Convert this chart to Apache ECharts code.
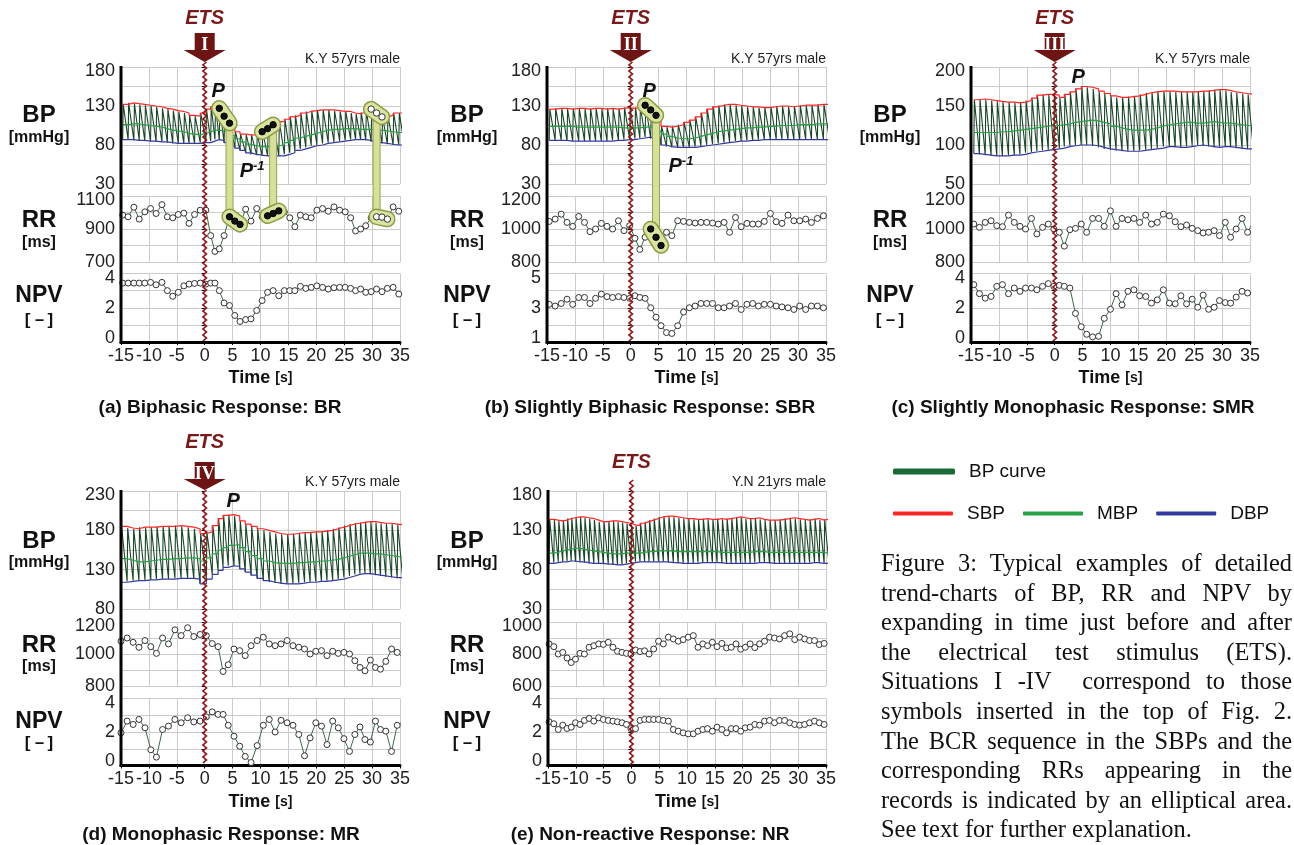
<!DOCTYPE html>
<html><head><meta charset="utf-8">
<script src="https://cdn.jsdelivr.net/npm/echarts@6/dist/echarts.min.js"></script>
<style>
html,body{margin:0;padding:0;background:#fff;}
#c{position:absolute;left:0;top:0;width:1294px;height:845px;}
#cap{position:absolute;left:881px;top:548px;width:411px;font-family:"Liberation Serif","Times New Roman",serif;font-size:24.4px;line-height:29.6px;color:#111;}
#cap div{text-align:justify;text-align-last:justify;white-space:normal;}
#cap div.last{text-align:left;text-align-last:left;}
</style></head>
<body>
<div id="c"></div>
<div id="cap">
<div>Figure 3: Typical examples of detailed</div>
<div>trend-charts of BP, RR and NPV by</div>
<div>expanding in time just before and after</div>
<div>the electrical test stimulus (ETS).</div>
<div>Situations I -IV &nbsp;correspond to those</div>
<div>symbols inserted in the top of Fig. 2.</div>
<div>The BCR sequence in the SBPs and the</div>
<div>corresponding RRs appearing in the</div>
<div>records is indicated by an elliptical area.</div>
<div class="last">See text for further explanation.</div>
</div>
<script>
// ---------------- DATA (per beat) ----------------
const X_MIN = -15, X_MAX = 35, X_STEP = 5;

// (a) Biphasic Response
const A_T0 = -14.7;
const A_RR = [984,974,1032,960,1004,1024,994,1048,974,968, 988,996,934,988,1014,1014,860,764,780,860, 974,948,928,1020,948,1024,974,980,994,1010, 1004,968,914,984,974,968,1014,1024,1008,1034, 1014,1004,968,888,900,920,968,974,972,960, 1034,1008];
const A_NPV = [3.44,3.44,3.44,3.44,3.44,3.48,3.34,3.48,3.0,2.67, 2.9,3.28,3.38,3.42,3.44,3.38,3.44,3.44,3.0,2.28, 2.13,1.55,1.2,1.31,1.35,1.84,2.42,2.9,3.0,2.7, 3.0,3.0,3.0,3.25,3.13,3.19,3.28,3.19,3.09,3.17, 3.19,3.19,3.13,3.0,3.09,2.9,2.94,3.09,2.94,3.13, 3.19,2.8];
const A_SBP = [132,134,133,132,131,130,129,127,126,124, 123,121,118,117,121,126,129,131,127,117, 108,97,94,93,93,94,97,101,106,110, 113,116,118,121,123,124,125,125,125,124, 123,123,121,120,122,124,126,121,116,118, 121,121];
const A_MBP = [106,107,107,106,105,104,103,101,99,98, 97,95,94,93,95,97,99,99,98,96, 92,88,84,81,79,78,78,78,79,80, 83,86,89,91,93,95,97,99,100,100, 101,101,101,100,100,100,99,99,98,97, 96,96];
const A_DBP = [87,87,86,86,85,85,84,84,83,82, 82,82,82,82,83,83,85,87,86,83, 79,76,73,70,68,67,66,66,66,66, 68,70,73,75,77,79,80,82,83,84, 85,86,87,87,87,86,84,83,82,81, 80,80];
const A_BCR = [{sbp:[18,19,20], rr:[20,21,22], bar:20, fill:'black'},
               {sbp:[26,27,28], rr:[27,28,29], bar:28, fill:'black'},
               {sbp:[46,47,48], rr:[47,48,49], bar:47, fill:'white'}];
const A_P = [2.4,148], A_PINV = [8.5,46];

// (b) Slightly Biphasic Response
const B_T0 = -14.6;
const B_RR = [1046,1060,1090,1040,1016,1076,1040,984,1000,1034, 1016,1000,1050,990,1020,944,876,950,1000,950, 900,980,960,1050,1046,1040,1036,1040,1040,1036, 1030,1040,980,1070,1014,1034,1030,1030,1046,1094, 1044,1034,1084,1050,1050,1060,1040,1064,1080,1084];
const B_NPV = [3.2,3.1,3.25,3.5,3.2,3.6,3.6,3.25,3.55,3.8, 3.65,3.6,3.65,3.6,3.55,3.7,3.6,3.55,3.0,2.45, 1.95,1.55,1.5,1.95,2.75,3.0,3.1,3.25,3.25,3.25, 3.0,3.0,3.1,3.25,2.9,3.2,3.25,3.1,3.2,3.2, 3.1,3.05,3.0,2.9,3.1,2.9,3.1,3.1,3.0,2.9];
const B_SBP = [126,127,127,126,127,127,126,127,127,126, 127,126,127,128,127,128,129,131,125,118, 104,103,104,106,109,112,116,121,126,129, 131,132,132,131,130,129,129,128,128,129, 130,130,129,130,131,131,131,132,132,132];
const B_MBP = [104,104,104,104,103,103,103,103,103,103, 103,103,102,102,102,102,103,103,101,98, 94,91,89,88,88,89,91,93,95,97, 98,99,100,101,102,102,103,103,104,104, 105,105,105,106,106,106,107,107,107,107];
const B_DBP = [86,86,86,85,85,85,85,85,85,85, 85,86,86,87,87,88,89,90,88,84, 80,78,77,77,77,77,78,79,80,81, 82,83,84,85,85,86,86,87,87,87, 87,87,87,87,87,87,87,87,87,87];
const B_BCR = [{sbp:[17,18,19], rr:[18,19,20], bar:19, fill:'black'}];
const B_P = [3.3,148], B_PINV = [9.0,52];

// (c) Slightly Monophasic Response
const C_T0 = -14.5;
const C_RR = [1030,1010,1040,1050,1020,1014,1084,1040,1016,1000, 1064,970,1010,1030,1000,980,896,996,1004,1030, 980,1064,1064,1016,1110,1016,1064,1056,1064,1040, 1084,1030,1040,1090,1080,1044,1014,1024,1004,990, 976,980,990,960,1040,950,1000,1064,980,1044];
const C_NPV = [3.35,2.82,2.56,2.66,3.25,3.35,2.82,3.15,2.96,3.15, 3.15,3.05,3.25,3.41,3.25,3.31,3.25,3.15,1.67,0.89, 0.45,0.3,0.33,1.38,1.91,2.82,2.17,2.96,3.05,2.7, 2.66,2.27,2.46,3.05,2.27,2.23,2.7,2.23,2.5,2.03, 2.74,1.91,2.03,2.42,2.3,2.27,2.62,2.96,2.86,2.76];
const C_SBP = [158,159,158,157,156,155,155,154,155,157, 160,164,165,165,164,161,165,168,172,175, 174,172,169,166,163,161,161,162,163,165, 167,168,169,169,169,168,168,168,168,169, 169,170,171,171,170,168,167,166,165,165];
const C_MBP = [116,116,116,116,117,117,118,119,120,121, 122,123,124,125,125,126,127,129,130,131, 132,131,129,127,124,122,120,119,119,119, 120,122,124,126,127,128,129,129,128,128, 129,130,129,128,128,127,126,125,125,124];
const C_DBP = [89,88,87,86,86,86,87,87,88,90, 91,92,93,94,95,96,98,99,100,100, 100,99,97,95,94,93,92,92,92,93, 94,95,96,98,98,97,97,98,99,100, 99,98,97,98,98,97,96,95,95,95];
const C_P = [4.2,187];

// (d) Monophasic Response
const D_T0 = -15.0;
const D_RR = [1080,1100,1073,1042,1084,1046,1004,1100,1063,1151, 1115,1164,1109,1122,1115,1065,1046,891,933,1031, 1021,990,1052,1084,1105,1063,1052,1063,1084,1052, 1042,1031,1000,1017,1021,990,1017,1004,1010,1000, 958,916,895,962,916,905,954,1031,1010,979];
const D_NPV = [1.95,2.65,2.45,2.75,2.25,0.94,0.5,2.15,2.35,2.75, 2.55,2.85,2.6,2.65,2.9,3.2,3.05,3.05,2.4,1.75, 1.15,0.54,0.18,1.19,2.4,2.75,2.0,2.7,2.55,2.4, 1.85,0.58,1.65,2.55,2.35,1.25,2.65,2.25,1.6,0.84, 1.85,2.3,1.55,1.4,2.65,2.15,2.05,0.84,2.4,2.6];
const D_SBP = [185,183,182,184,184,184,185,185,185,186, 185,184,182,176,178,186,195,199,200,198, 192,188,185,182,180,178,176,175,175,176, 177,177,178,178,179,180,182,184,186,188, 189,190,191,191,190,189,189,188,187,187];
const D_MBP = [144,142,140,140,141,142,143,143,144,144, 145,145,144,141,145,150,155,158,161,162, 158,153,148,144,141,139,138,138,138,139, 139,140,140,141,141,142,143,145,147,149, 151,151,151,150,150,149,148,147,146,146];
const D_DBP = [114,115,116,116,117,117,118,118,118,119, 119,119,118,112,118,124,129,133,135,134, 131,127,123,119,116,114,113,112,112,112, 113,114,114,115,115,116,117,118,120,122, 124,125,125,124,123,122,121,120,120,119];
const D_P = [5.1,217];

// (e) Non-reactive Response
const E_T0 = -14.8;
const E_RR = [863,846,800,810,775,747,768,804,800,842, 852,863,860,873,842,817,810,804,800,825, 815,820,800,831,880,863,905,894,880,890, 905,915,842,863,852,873,846,866,838,842, 863,830,842,863,840,863,880,905,900,894, 915,926,890,905,894,884,884,859,866,870];
const E_NPV = [2.61,2.49,2.15,2.41,2.21,2.29,2.55,2.45,2.69,2.81, 2.65,2.85,2.75,2.69,2.65,2.61,2.55,2.45,2.2,2.2, 2.69,2.75,2.75,2.75,2.75,2.69,2.65,2.15,2.05,1.95, 1.89,1.89,2.05,2.15,2.2,2.05,2.29,2.15,1.95,2.2, 2.2,2.05,2.25,2.29,2.45,2.41,2.65,2.69,2.55,2.69, 2.69,2.55,2.45,2.41,2.45,2.55,2.65,2.55,2.45,2.29];
const E_SBP = [144,143,142,143,145,146, 147,147,146,145,143,141, 141,142,142,141,140,139, 137,136,139,141,143, 145,147,148,148,147,146, 145,145,144,144,145,144, 144,145,144,145,146,147, 146,145,145,146,144,143, 143,143,144,145,146,145, 144,143,144,145,143,144,145];
const E_MBP = [101,102,104,105,106,107, 107,106,105,104,103,102, 101,100,100,100,101,101, 101,101,102,103,103, 104,104,104,104,103,103,103,103,103,103, 103,103,103,102,102,102,102,102,102,102, 103,103,103,102,102,102,102,102,102,102, 102,102,102,102,102,101,101];
const E_DBP = [88,89,90,90,91,91, 90,90,89,88,88,88, 87,87,86,86,87,88, 89,90,90,90,90, 90,90,90,89,89,88,88,88,88,89, 89,89,89,89,88,88,88,88,88,88, 88,89,89,89,88,88,88,88,88,88, 88,88,89,89,88,88,88];

// axis ranges [min, max, step]
const BP_AXES  = {a:[30,180,25], b:[30,180,25], c:[50,200,25], d:[80,230,25], e:[30,180,25]};
const RR_AXES  = {a:[700,1100,100], b:[800,1200,100], c:[800,1200,100], d:[800,1200,100], e:[600,1000,100]};
const NPV_AXES = {a:[0,4,1], b:[1,5,1], c:[0,4,1], d:[0,4,1], e:[0,4,1]};

const SUBJECTS = {a:'K.Y 57yrs male', b:'K.Y 57yrs male', c:'K.Y 57yrs male', d:'K.Y 57yrs male', e:'Y.N 21yrs male'};
const CAPTIONS = {a:'(a) Biphasic Response: BR', b:'(b) Slightly Biphasic Response: SBR', c:'(c) Slightly Monophasic Response: SMR', d:'(d) Monophasic Response: MR', e:'(e) Non-reactive Response: NR'};
const NUMERALS = {a:'I', b:'II', c:'III', d:'IV', e:null};

// ---------------- LAYOUT / STYLE ----------------
const FONT = '"Liberation Sans", Arial, sans-serif';
const LAYOUT = {
  a:{left:121,width:279,row:0,labelX:39,capX:220},
  b:{left:547,width:279,row:0,labelX:467,capX:650},
  c:{left:971,width:279,row:0,labelX:890,capX:1073},
  d:{left:121,width:279,row:1,labelX:39,capX:221},
  e:{left:548,width:278,row:1,labelX:467,capX:650}
};
const ROWS = [
  {g:[[67,117],[196,66],[273.5,68.5]], person:59, ets:18, arrowTop:33, tip:62, time:378, cap:408,
   lab:{bp:115,unit:138,rr:220,ms:243,npv:296,dash:320}},
  {g:[[491,118],[622,64],[698.5,67]], person:482, ets:442, arrowTop:462, tip:490, time:802, cap:835,
   lab:{bp:541,unit:563,rr:645,ms:667,npv:722,dash:743}}
];
const C_SBPLINE = '#ff2626', C_MBPLINE = '#27a046', C_DBPLINE = '#343a9e', C_CURVE = '#1a4627';
const GRIDC = '#cbcbcb';

const PANELS = {
  a:{t0:A_T0, rr:A_RR, npv:A_NPV, sbp:A_SBP, mbp:A_MBP, dbp:A_DBP, bcr:A_BCR, p:A_P, pinv:A_PINV},
  b:{t0:B_T0, rr:B_RR, npv:B_NPV, sbp:B_SBP, mbp:B_MBP, dbp:B_DBP, bcr:B_BCR, p:B_P, pinv:B_PINV},
  c:{t0:C_T0, rr:C_RR, npv:C_NPV, sbp:C_SBP, mbp:C_MBP, dbp:C_DBP, bcr:[], p:C_P, pinv:null},
  d:{t0:D_T0, rr:D_RR, npv:D_NPV, sbp:D_SBP, mbp:D_MBP, dbp:D_DBP, bcr:[], p:D_P, pinv:null},
  e:{t0:E_T0, rr:E_RR, npv:E_NPV, sbp:E_SBP, mbp:E_MBP, dbp:E_DBP, bcr:[], p:null, pinv:null}
};

function beatTimes(t0, rr){ const t=[t0]; for(let i=1;i<rr.length;i++) t.push(t[i-1]+rr[i]/1000); return t; }

function yFmt(mn, mx, st, bottomUp){
  return v => {
    const k = Math.round((v-mn)/st);
    if (k % 2) return '';
    if (Math.abs(v-mx) < 1e-6) return '{t|'+v+'}';
    if (bottomUp && Math.abs(v-mn) < 1e-6) return '{b|'+v+'}';
    return '{n|'+v+'}';
  };
}
const LBL = {fontSize:18, color:'#222', fontFamily:FONT};

const grids=[], xAxes=[], yAxes=[], series=[];
const gridIdx = {};
Object.keys(PANELS).forEach(key => {
  const P = PANELS[key], L = LAYOUT[key], R = ROWS[L.row];
  const axesDef = [BP_AXES[key], RR_AXES[key], NPV_AXES[key]];
  gridIdx[key] = [];
  R.g.forEach((r, ri) => {
    const gi = grids.length; gridIdx[key].push(gi);
    grids.push({left:L.left, top:r[0], width:L.width, height:r[1]});
    xAxes.push({gridIndex:gi, type:'value', min:X_MIN, max:X_MAX, interval:X_STEP,
      axisLine:{show:ri===2, onZero:false, lineStyle:{color:'#000', width:3}},
      axisTick:{show:ri===2, length:3, lineStyle:{color:'#000'}},
      axisLabel:{show:ri===2, fontSize:18, color:'#222', margin:5, fontFamily:FONT},
      splitLine:{show:true, lineStyle:{color:GRIDC, width:1}}});
    const [mn,mx,st] = axesDef[ri];
    yAxes.push({gridIndex:gi, type:'value', min:mn, max:mx, interval:st,
      axisLine:{show:false}, axisTick:{show:true, length:3, lineStyle:{color:'#000'}},
      axisLabel:{margin:6, formatter:yFmt(mn,mx,st, ri===2),
        rich:{n:LBL, t:Object.assign({padding:[9,0,0,0]},LBL), b:Object.assign({padding:[0,0,8,0]},LBL)}},
      splitLine:{show:true, lineStyle:{color:GRIDC, width:1}}});
  });
  const t = beatTimes(P.t0, P.rr);
  const n = Math.min(P.rr.length, P.sbp.length, P.dbp.length, P.mbp.length, P.npv.length);
  const curve = [];
  for (let i=0;i<n;i++){ curve.push([t[i], P.dbp[i]]); curve.push([t[i]+0.1, P.sbp[i]]); }
  curve.push([t[n-1]+P.rr[n-1]/1000, P.dbp[n-1]]);
  const step = arr => { const d=[]; for(let i=0;i<n;i++) d.push([t[i],arr[i]]); d.push([t[n-1]+P.rr[n-1]/1000, arr[n-1]]); return d; };
  const g = gridIdx[key];
  series.push({name:'BP curve', type:'line', xAxisIndex:g[0], yAxisIndex:g[0], data:curve, showSymbol:false,
    lineStyle:{color:C_CURVE, width:1.1}, itemStyle:{color:'#1b6a35'}, z:2, silent:true});
  series.push({name:'MBP', type:'line', step:'end', xAxisIndex:g[0], yAxisIndex:g[0], data:step(P.mbp), showSymbol:false,
    lineStyle:{color:C_MBPLINE, width:1.2}, itemStyle:{color:C_MBPLINE}, z:3, silent:true});
  series.push({name:'SBP', type:'line', step:'end', xAxisIndex:g[0], yAxisIndex:g[0], data:step(P.sbp), showSymbol:false,
    lineStyle:{color:C_SBPLINE, width:1.2}, itemStyle:{color:C_SBPLINE}, z:3, silent:true});
  series.push({name:'DBP', type:'line', step:'end', xAxisIndex:g[0], yAxisIndex:g[0], data:step(P.dbp), showSymbol:false,
    lineStyle:{color:C_DBPLINE, width:1.2}, itemStyle:{color:C_DBPLINE}, z:3, silent:true});
  const pts = arr => { const d=[]; for(let i=0;i<n;i++) d.push([t[i],arr[i]]); return d; };
  const dotStyle = {color:'#fff', borderColor:'#333', borderWidth:1};
  series.push({name:'RR', type:'line', xAxisIndex:g[1], yAxisIndex:g[1], data:pts(P.rr), symbol:'circle', symbolSize:6,
    showAllSymbol:true, lineStyle:{color:'#3b6b46', width:1}, itemStyle:dotStyle, z:3, silent:true});
  series.push({name:'NPV', type:'line', xAxisIndex:g[2], yAxisIndex:g[2], data:pts(P.npv), symbol:'circle', symbolSize:6,
    showAllSymbol:true, lineStyle:{color:'#3b6b46', width:1}, itemStyle:dotStyle, z:3, silent:true});
  P._t = t;
});

const chart = echarts.init(document.getElementById('c'), null, {renderer:'canvas', width:1294, height:845});
chart.setOption({
  animation:false, backgroundColor:'#fff',
  grid:grids, xAxis:xAxes, yAxis:yAxes, series:series,
  legend:[
    {data:['BP curve'], left:888, top:457, icon:'roundRect', itemWidth:62, itemHeight:6, selectedMode:false,
     textStyle:{fontSize:19, color:'#111', fontFamily:FONT, padding:[0,0,0,9]}},
    {data:['SBP','MBP','DBP'], left:888, top:499, icon:'roundRect', itemWidth:60, itemHeight:4, itemGap:18, selectedMode:false,
     textStyle:{fontSize:19, color:'#111', fontFamily:FONT, padding:[0,0,0,9]}}
  ]
});

// ---------------- DECORATIONS (positioned through the axes) ----------------
const G = [];
const px = (gi, x, y) => chart.convertToPixel({gridIndex:gi}, [x, y]);
const txt = (x, y, text, font, extra) => G.push(Object.assign({type:'text', x, y, z:60, silent:true,
  style:{text, font, fill:'#111', align:'center', verticalAlign:'middle'}}, extra||{}));

Object.keys(PANELS).forEach(key => {
  const P = PANELS[key], L = LAYOUT[key], R = ROWS[L.row], g = gridIdx[key], t = P._t;
  const topPx = px(g[0], X_MIN, BP_AXES[key][1]);
  const botPx = px(g[2], X_MIN, NPV_AXES[key][0]);
  G.push({type:'line', z:50, silent:true, shape:{x1:topPx[0], y1:topPx[1]-1, x2:botPx[0], y2:botPx[1]+1.5}, style:{stroke:'#000', lineWidth:3}});
  const lb = R.lab;
  txt(L.labelX, lb.bp, 'BP', 'bold 24px '+FONT);
  txt(L.labelX, lb.unit, '[mmHg]', 'bold 16px '+FONT);
  txt(L.labelX, lb.rr, 'RR', 'bold 24px '+FONT);
  txt(L.labelX, lb.ms, '[ms]', 'bold 16px '+FONT);
  txt(L.labelX, lb.npv, 'NPV', 'bold 23px '+FONT);
  txt(L.labelX, lb.dash, '[－]', 'bold 17px '+FONT);
  const rightX = px(g[0], X_MAX, 0)[0];
  txt(rightX, R.person, SUBJECTS[key], '14px '+FONT, {style:{text:SUBJECTS[key], font:'14px '+FONT, fill:'#222', align:'right', verticalAlign:'middle'}});
  const midX = (px(g[2], X_MIN, 0)[0] + rightX)/2;
  G.push({type:'text', x:midX, y:R.time, z:60, silent:true, style:{text:'{a|Time }{b|[s]}', align:'center', verticalAlign:'middle',
    rich:{a:{font:'bold 18px '+FONT, fill:'#111'}, b:{font:'bold 14px '+FONT, fill:'#111'}}}});
  txt(L.capX, R.cap, CAPTIONS[key], 'bold 19px '+FONT);

  const x0 = px(g[0], 0, 0)[0];
  const etsY = key==='e' ? 462 : R.ets;
  G.push({type:'text', x:x0, y:etsY, z:60, silent:true, style:{text:'ETS', font:'italic bold 20px '+FONT, fill:'#7a1919', align:'center', verticalAlign:'middle'}});
  let zzTop = key==='e' ? 480 : R.tip;
  if (NUMERALS[key]) {
    const a = R.arrowTop, tp = R.tip, m = a + 17;
    G.push({type:'polygon', z:55, silent:true, shape:{points:[[x0-10,a],[x0+10,a],[x0+10,m],[x0+21,m],[x0,tp],[x0-21,m],[x0-10,m]]}, style:{fill:'#6d1515'}});
    G.push({type:'text', x:x0, y:a+12, z:56, silent:true, style:{text:NUMERALS[key], font:'bold 18px "Liberation Serif", serif', fill:'#fff', align:'center', verticalAlign:'middle'}});
  }
  const zz = []; let s = 1;
  for (let y = zzTop; y <= botPx[1]; y += 3) { zz.push([x0 + 1.8*s, y]); s = -s; }
  G.push({type:'polyline', z:58, silent:true, shape:{points:zz}, style:{stroke:'#8e1414', lineWidth:1.6, fill:null}});

  P.bcr.forEach(b => {
    const sp = b.sbp.map(i => px(g[0], t[i], P.sbp[i]));
    const rp = b.rr.map(i => px(g[1], t[i], P.rr[i]));
    const bt = px(g[0], t[b.bar], P.sbp[b.bar]), bb = px(g[1], t[b.bar], P.rr[b.bar]);
    G.push({type:'rect', z:61, silent:true, shape:{x:bt[0]-3.5, y:bt[1], width:7, height:bb[1]-bt[1]}, style:{fill:'#d7e09a', stroke:'#96a24c', lineWidth:1}});
    [sp, rp].forEach(pp => {
      const A = pp[0], B = pp[pp.length-1];
      const dx = B[0]-A[0], dy = B[1]-A[1], th = 15, Ln = Math.hypot(dx,dy)+th;
      G.push({type:'rect', z:62, silent:true, x:(A[0]+B[0])/2, y:(A[1]+B[1])/2, rotation:-Math.atan2(dy,dx),
        shape:{x:-Ln/2, y:-th/2, width:Ln, height:th, r:th/2}, style:{fill:'#dbe3a0', stroke:'#8e9b45', lineWidth:1.5}});
      pp.forEach(q => G.push({type:'circle', z:63, silent:true, shape:{cx:q[0], cy:q[1], r:3.2},
        style:{fill:b.fill==='black'?'#111':'#fff', stroke:b.fill==='black'?'#000':'#333', lineWidth:1}}));
    });
  });
  if (P.p) { const q = px(g[0], P.p[0], P.p[1]); G.push({type:'text', x:q[0], y:q[1], z:64, silent:true, style:{text:'P', font:'italic bold 20px '+FONT, fill:'#111', align:'center', verticalAlign:'middle'}}); }
  if (P.pinv) { const q = px(g[0], P.pinv[0], P.pinv[1]); G.push({type:'text', x:q[0], y:q[1], z:64, silent:true,
    style:{text:'{a|P}{b|-1}', align:'center', verticalAlign:'middle', rich:{a:{font:'italic bold 20px '+FONT, fill:'#111'}, b:{font:'italic bold 13px '+FONT, fill:'#111', padding:[0,0,10,0]}}}}); }
});
chart.setOption({graphic:G});
</script>
</body></html>
